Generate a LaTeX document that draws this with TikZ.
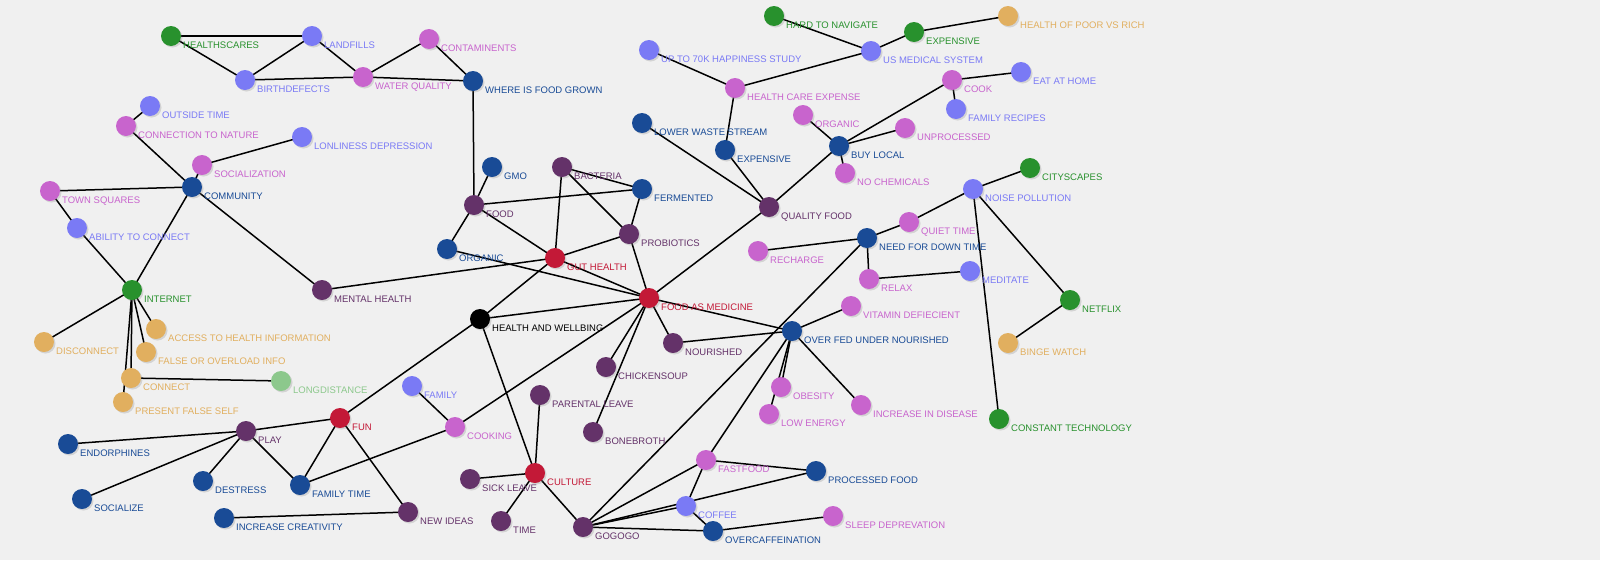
\documentclass[tikz,border=0pt]{standalone}
\usepackage{fontspec}
\setmainfont{Liberation Sans}
\usetikzlibrary{shadows}
\definecolor{dkblue}{RGB}{25,75,150}
\definecolor{ltblue}{RGB}{122,122,245}
\definecolor{orchid}{RGB}{200,100,205}
\definecolor{plum}{RGB}{100,50,105}
\definecolor{crimson}{RGB}{195,25,55}
\definecolor{leaf}{RGB}{40,145,45}
\definecolor{sand}{RGB}{225,175,95}
\definecolor{mint}{RGB}{140,200,140}
\definecolor{paper}{RGB}{240,240,240}
\pgfdeclarelayer{bg}
\pgfdeclarelayer{edges}
\pgfsetlayers{bg,edges,main}
\tikzset{
  dot/.style={circle, minimum size=20pt, inner sep=0pt,
    drop shadow={opacity=0.25, shadow xshift=1.5pt, shadow yshift=-1.5pt}},
  tag/.style={anchor=base west, inner sep=0pt, font=\fontsize{9.5}{11}\selectfont},
  link/.style={line width=1.5pt, black}
}
\newcommand{\topic}[5]{%
  \node[dot, fill=#4] (#1) at (#2,#3) {};
  \node[tag, text=#4] (#1-t) at ([shift={(12,12)}]#1.center) {#5};
}

\begin{document}
\begin{tikzpicture}[x=1pt, y=-1pt]
            \begin{pgfonlayer}{bg}
              \fill[paper] (0,0) rectangle (1600,560);
            \end{pgfonlayer}
            \useasboundingbox (0,0) rectangle (1600,560);
            % water and environment
            \topic{healthscares}{171}{36}{leaf}{HEALTHSCARES}
            \topic{landfills}{312}{36}{ltblue}{LANDFILLS}
            \topic{birthdefects}{245}{80}{ltblue}{BIRTHDEFECTS}
            \topic{waterq}{363}{77}{orchid}{WATER QUALITY}
            \topic{contam}{429}{39}{orchid}{CONTAMINENTS}
            \topic{wherefood}{473}{81}{dkblue}{WHERE IS FOOD GROWN}
            % community
            \topic{outside}{150}{106}{ltblue}{OUTSIDE TIME}
            \topic{nature}{126}{126}{orchid}{CONNECTION TO NATURE}
            \topic{lonely}{302}{137}{ltblue}{LONLINESS DEPRESSION}
            \topic{social}{202}{165}{orchid}{SOCIALIZATION}
            \topic{community}{192}{187}{dkblue}{COMMUNITY}
            \topic{townsq}{50}{191}{orchid}{TOWN SQUARES}
            \topic{ability}{77}{228}{ltblue}{ABILITY TO CONNECT}
            \topic{internet}{132}{290}{leaf}{INTERNET}
            \topic{mental}{322}{290}{plum}{MENTAL HEALTH}
            \topic{access}{156}{329}{sand}{ACCESS TO HEALTH INFORMATION}
            \topic{disconnect}{44}{342}{sand}{DISCONNECT}
            \topic{falseinfo}{146}{352}{sand}{FALSE OR OVERLOAD INFO}
            \topic{connect}{131}{378}{sand}{CONNECT}
            \topic{falseself}{123}{402}{sand}{PRESENT FALSE SELF}
            \topic{longdist}{281}{381}{mint}{LONGDISTANCE}
            % food
            \topic{food}{474}{205}{plum}{FOOD}
            \topic{gmo}{492}{167}{dkblue}{GMO}
            \topic{bacteria}{562}{167}{plum}{BACTERIA}
            \topic{fermented}{642}{189}{dkblue}{FERMENTED}
            \topic{probiotics}{629}{234}{plum}{PROBIOTICS}
            \topic{organicb}{447}{249}{dkblue}{ORGANIC}
            \topic{gut}{555}{258}{crimson}{GUT HEALTH}
            \topic{fam}{649}{298}{crimson}{FOOD AS MEDICINE}
            \topic{hw}{480}{319}{black}{HEALTH AND WELLBING}
            \topic{nourished}{673}{343}{plum}{NOURISHED}
            \topic{chicken}{606}{367}{plum}{CHICKENSOUP}
            \topic{bonebroth}{593}{432}{plum}{BONEBROTH}
            \topic{overfed}{792}{331}{dkblue}{OVER FED UNDER NOURISHED}
            \topic{vitamin}{851}{306}{orchid}{VITAMIN DEFIECIENT}
            \topic{obesity}{781}{387}{orchid}{OBESITY}
            \topic{lowenergy}{769}{414}{orchid}{LOW ENERGY}
            \topic{disease}{861}{405}{orchid}{INCREASE IN DISEASE}
            % medical system and buying
            \topic{quality}{769}{207}{plum}{QUALITY FOOD}
            \topic{lowerwaste}{642}{123}{dkblue}{LOWER WASTE STREAM}
            \topic{expblue}{725}{150}{dkblue}{EXPENSIVE}
            \topic{hcexpense}{735}{88}{orchid}{HEALTH CARE EXPENSE}
            \topic{happiness}{649}{50}{ltblue}{UP TO 70K HAPPINESS STUDY}
            \topic{usmed}{871}{51}{ltblue}{US MEDICAL SYSTEM}
            \topic{hardnav}{774}{16}{leaf}{HARD TO NAVIGATE}
            \topic{expgreen}{914}{32}{leaf}{EXPENSIVE}
            \topic{poorrich}{1008}{16}{sand}{HEALTH OF POOR VS RICH}
            \topic{buylocal}{839}{146}{dkblue}{BUY LOCAL}
            \topic{organicp}{803}{115}{orchid}{ORGANIC}
            \topic{unprocessed}{905}{128}{orchid}{UNPROCESSED}
            \topic{nochem}{845}{173}{orchid}{NO CHEMICALS}
            \topic{cook}{952}{80}{orchid}{COOK}
            \topic{eathome}{1021}{72}{ltblue}{EAT AT HOME}
            \topic{recipes}{956}{109}{ltblue}{FAMILY RECIPES}
            % down time
            \topic{downtime}{867}{238}{dkblue}{NEED FOR DOWN TIME}
            \topic{recharge}{758}{251}{orchid}{RECHARGE}
            \topic{quiet}{909}{222}{orchid}{QUIET TIME}
            \topic{relax}{869}{279}{orchid}{RELAX}
            \topic{meditate}{970}{271}{ltblue}{MEDITATE}
            \topic{noise}{973}{189}{ltblue}{NOISE POLLUTION}
            \topic{cityscapes}{1030}{168}{leaf}{CITYSCAPES}
            \topic{netflix}{1070}{300}{leaf}{NETFLIX}
            \topic{binge}{1008}{343}{sand}{BINGE WATCH}
            \topic{consttech}{999}{419}{leaf}{CONSTANT TECHNOLOGY}
            % play and culture
            \topic{fun}{340}{418}{crimson}{FUN}
            \topic{play}{246}{431}{plum}{PLAY}
            \topic{endorph}{68}{444}{dkblue}{ENDORPHINES}
            \topic{destress}{203}{481}{dkblue}{DESTRESS}
            \topic{familytime}{300}{485}{dkblue}{FAMILY TIME}
            \topic{socialize}{82}{499}{dkblue}{SOCIALIZE}
            \topic{creativity}{224}{518}{dkblue}{INCREASE CREATIVITY}
            \topic{newideas}{408}{512}{plum}{NEW IDEAS}
            \topic{family}{412}{386}{ltblue}{FAMILY}
            \topic{cooking}{455}{427}{orchid}{COOKING}
            \topic{parental}{540}{395}{plum}{PARENTAL LEAVE}
            \topic{culture}{535}{473}{crimson}{CULTURE}
            \topic{sickleave}{470}{479}{plum}{SICK LEAVE}
            \topic{time}{501}{521}{plum}{TIME}
            \topic{gogogo}{583}{527}{plum}{GOGOGO}
            \topic{fastfood}{706}{460}{orchid}{FASTFOOD}
            \topic{coffee}{686}{506}{ltblue}{COFFEE}
            \topic{overcaf}{713}{531}{dkblue}{OVERCAFFEINATION}
            \topic{processed}{816}{471}{dkblue}{PROCESSED FOOD}
            \topic{sleep}{833}{516}{orchid}{SLEEP DEPREVATION}
            \begin{pgfonlayer}{edges}
              \foreach \a/\b in {healthscares/landfills, healthscares/birthdefects, birthdefects/landfills,
                  birthdefects/waterq, landfills/waterq, waterq/contam, waterq/wherefood, contam/wherefood,
                  wherefood/food, outside/nature, nature/community, social/lonely, social/community,
                  townsq/community, townsq/ability, ability/internet, community/internet, community/mental,
                  mental/gut, internet/disconnect, internet/access, internet/falseinfo, internet/connect,
                  internet/falseself, connect/longdist, food/gmo, food/fermented, food/organicb, food/gut,
                  bacteria/fermented, bacteria/probiotics, bacteria/gut, fermented/probiotics, probiotics/gut,
                  probiotics/fam, organicb/fam, gut/fam, gut/hw, hw/fam, hw/fun, hw/culture,
                  fam/quality, fam/nourished, fam/overfed, fam/chicken, fam/bonebroth, fam/cooking,
                  overfed/nourished, overfed/vitamin, overfed/obesity, overfed/lowenergy, overfed/disease,
                  overfed/fastfood, downtime/gogogo, downtime/recharge, downtime/quiet, downtime/relax,
                  relax/meditate, quiet/noise, noise/cityscapes, noise/netflix, noise/consttech, netflix/binge,
                  quality/lowerwaste, quality/expblue, quality/buylocal, expblue/hcexpense, hcexpense/happiness,
                  hcexpense/usmed, usmed/hardnav, usmed/expgreen, expgreen/poorrich, buylocal/organicp,
                  buylocal/cook, buylocal/unprocessed, buylocal/nochem, cook/eathome, cook/recipes,
                  play/fun, play/endorph, play/socialize, play/destress, play/familytime, fun/familytime,
                  fun/newideas, newideas/creativity, family/cooking, cooking/familytime,
                  culture/parental, culture/sickleave, culture/time, culture/gogogo,
                  gogogo/fastfood, gogogo/coffee, gogogo/processed, gogogo/overcaf, fastfood/processed,
                  fastfood/coffee, coffee/overcaf, overcaf/sleep}
                \draw[link] (\a.center) -- (\b.center);
            \end{pgfonlayer}
        \end{tikzpicture}
\end{document}
